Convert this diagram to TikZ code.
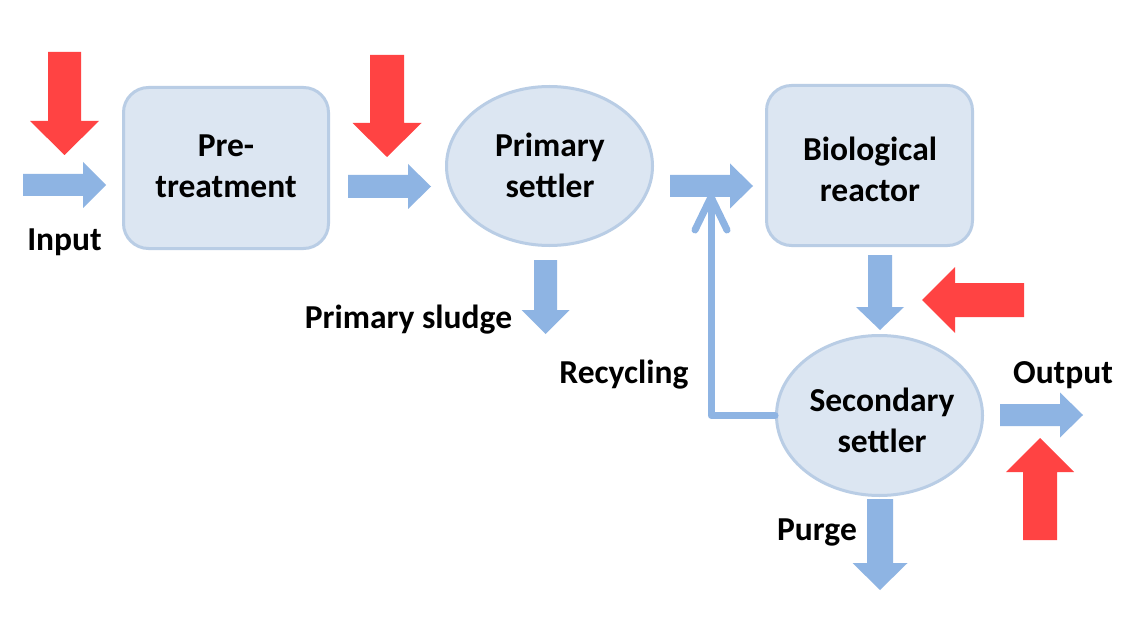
\documentclass[tikz,border=0pt]{standalone}
\usepackage{fontspec}
\setmainfont{Carlito}
\usetikzlibrary{shapes.geometric}
\definecolor{boxfill}{HTML}{DCE6F2}
\definecolor{boxline}{HTML}{B9CDE5}
\definecolor{flowblue}{HTML}{8EB4E3}
\definecolor{hotred}{HTML}{FF4343}
% #1 colour, #2 #3 tail centre, #4 angle, #5 length, #6 shaft half width, #7 head half width, #8 head length
\newcommand{\fatarrow}[8]{%
  \begin{scope}[shift={(#2,#3)},rotate=#4]
    \fill[#1] (0,-#6) -- ({#5-#8},-#6) -- ({#5-#8},-#7) -- (#5,0) -- ({#5-#8},#7) -- ({#5-#8},#6) -- (0,#6) -- cycle;
  \end{scope}}
\tikzset{
  procbox/.style={draw=boxline, fill=boxfill, line width=3pt, rounded corners=25pt, inner sep=0pt},
  settlerell/.style={ellipse, draw=boxline, fill=boxfill, line width=3pt, inner sep=0pt},
  lbl/.style={font=\fontsize{33.5}{41}\selectfont\bfseries, align=center, inner sep=0pt},
  recyc/.style={draw=flowblue, line width=7pt, line cap=round, line join=round}
}
\begin{document}
\begin{tikzpicture}[x=1pt,y=-1pt]
\useasboundingbox (0,0) rectangle (1147,628);
\fill[white] (0,0) rectangle (1147,628);

% process shapes
\node[procbox, minimum width=205pt, minimum height=161pt] (pre) at (226,168) {};
\node[settlerell, minimum width=206pt, minimum height=159pt] (prim) at (549.5,166) {};
\node[procbox, minimum width=206pt, minimum height=160pt] (bio) at (869.5,165.5) {};
\node[settlerell, minimum width=206pt, minimum height=160pt] (sec) at (879.5,415.5) {};

% shape texts
\node[lbl] (tpre) at (226,165.5) {\rule{0pt}{24pt}Pre-\\treatment};
\node[lbl] (tprim) at (550,165.5) {\rule{0pt}{24pt}Primary\\settler};
\node[lbl] (tbio) at (870,169.5) {\rule{0pt}{24pt}Biological\\reactor};
\node[lbl] (tsec) at (882,420.5) {\rule{0pt}{24pt}Secondary\\settler};

% recycling connector
\coordinate (rtip) at (711,197);
\draw[recyc] (sec.west) -| (rtip);
\draw[recyc] ([xshift=-16pt,yshift=-33pt]rtip) -- (rtip) -- ([xshift=16pt,yshift=-33pt]rtip);

% flow arrows (blue)
\fatarrow{flowblue}{23}{185}{0}{83}{11}{23}{23}
\fatarrow{flowblue}{348}{186.5}{0}{83}{11.5}{22.5}{23}
\fatarrow{flowblue}{670}{186}{0}{83}{11}{22.5}{23}
\fatarrow{flowblue}{545.5}{260}{-90}{74}{11.5}{24}{24}
\fatarrow{flowblue}{880}{255}{-90}{75}{12}{24}{23}
\fatarrow{flowblue}{1000}{415}{0}{83}{11}{22.5}{23}
\fatarrow{flowblue}{880}{499}{-90}{91}{13}{27.5}{27}

% disturbance arrows (red)
\fatarrow{hotred}{64.5}{52}{-90}{103}{16.5}{34.5}{34}
\fatarrow{hotred}{387}{55}{-90}{102}{17}{34.5}{34}
\fatarrow{hotred}{1024}{300}{180}{102}{17}{33}{33}
\fatarrow{hotred}{1040}{540}{90}{102}{17}{34}{34}

% labels
\node[lbl, anchor=base] (linput) at (64.5,250) {Input};
\node[lbl, anchor=base] (lsludge) at (408.5,328) {Primary sludge};
\node[lbl, anchor=base] (lrecyc) at (624,383) {Recycling};
\node[lbl, anchor=base] (loutput) at (1063,383) {Output};
\node[lbl, anchor=base] (lpurge) at (817,540) {Purge};
\end{tikzpicture}
\end{document}
